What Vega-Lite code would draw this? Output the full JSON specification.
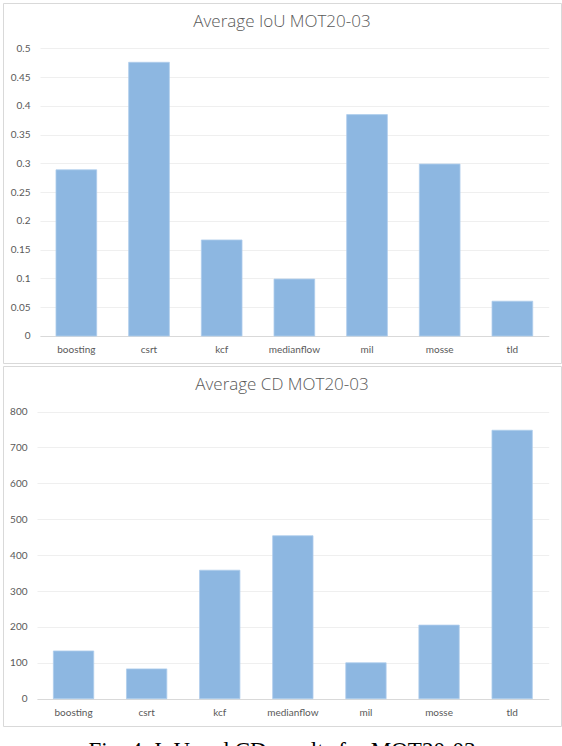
{
  "$schema": "https://vega.github.io/schema/vega-lite/v6.json",
  "padding": {"left": 2, "top": 2, "right": 2, "bottom": 2},
  "background": "white",
  "title": {
    "text": "Fig. 4: IoU and CD results for MOT20-03",
    "orient": "bottom",
    "anchor": "middle",
    "frame": "group",
    "font": "Liberation Serif",
    "fontSize": 23,
    "fontWeight": "normal",
    "color": "black",
    "baseline": "top",
    "offset": 13
  },
  "datasets": {
    "iou": [
      {"tracker": "boosting", "value": 0.289},
      {"tracker": "csrt", "value": 0.476},
      {"tracker": "kcf", "value": 0.167},
      {"tracker": "medianflow", "value": 0.099},
      {"tracker": "mil", "value": 0.385},
      {"tracker": "mosse", "value": 0.299},
      {"tracker": "tld", "value": 0.0605}
    ],
    "cd": [
      {"tracker": "boosting", "value": 133},
      {"tracker": "csrt", "value": 83},
      {"tracker": "kcf", "value": 358},
      {"tracker": "medianflow", "value": 454},
      {"tracker": "mil", "value": 100},
      {"tracker": "mosse", "value": 205},
      {"tracker": "tld", "value": 748}
    ]
  },
  "spacing": 1,
  "vconcat": [
    {
      "data": {"name": "iou"},
      "width": 558,
      "height": 360,
      "title": {"text": "Average IoU MOT20-03", "offset": -28},
      "mark": {"type": "bar", "color": "#8db7e1", "stroke": "#afcdec", "strokeWidth": 0.8},
      "encoding": {
        "x": {
          "field": "tracker",
          "type": "nominal",
          "sort": null,
          "scale": {"range": [37, 545.7], "paddingInner": 0.44, "paddingOuter": 0.22},
          "axis": {"title": null, "offset": -27}
        },
        "y": {
          "field": "value",
          "type": "quantitative",
          "scale": {"domain": [-0.04696, 0.5791], "nice": false},
          "axis": {
            "title": null,
            "offset": -30,
            "format": "~g",
            "values": [0, 0.05, 0.1, 0.15, 0.2, 0.25, 0.3, 0.35, 0.4, 0.45, 0.5]
          }
        }
      }
    },
    {
      "data": {"name": "cd"},
      "width": 558,
      "height": 360,
      "title": {"text": "Average CD MOT20-03", "offset": -28},
      "mark": {"type": "bar", "color": "#8db7e1", "stroke": "#afcdec", "strokeWidth": 0.8},
      "encoding": {
        "x": {
          "field": "tracker",
          "type": "nominal",
          "sort": null,
          "scale": {"range": [34, 545.7], "paddingInner": 0.448, "paddingOuter": 0.224},
          "axis": {"title": null, "offset": -27}
        },
        "y": {
          "field": "value",
          "type": "quantitative",
          "scale": {"domain": [-76.1, 927.0], "nice": false},
          "axis": {
            "title": null,
            "offset": -27,
            "format": "d",
            "values": [0, 100, 200, 300, 400, 500, 600, 700, 800]
          }
        }
      }
    }
  ],
  "config": {
    "view": {"stroke": "#d9d9d9", "strokeWidth": 1},
    "title": {
      "font": "Open Sans",
      "fontSize": 17,
      "fontWeight": 300,
      "color": "#595959",
      "anchor": "middle",
      "frame": "group"
    },
    "axis": {
      "labelFont": "Lato",
      "labelFontSize": 10,
      "labelColor": "#595959",
      "ticks": false,
      "tickSize": 0,
      "domain": false,
      "gridColor": "#efefef",
      "gridWidth": 1
    },
    "axisX": {
      "domain": true,
      "domainColor": "#d9d9d9",
      "domainWidth": 1,
      "grid": false,
      "labelAngle": 0,
      "labelPadding": 8
    },
    "axisY": {"grid": true, "labelPadding": 3}
  }
}
